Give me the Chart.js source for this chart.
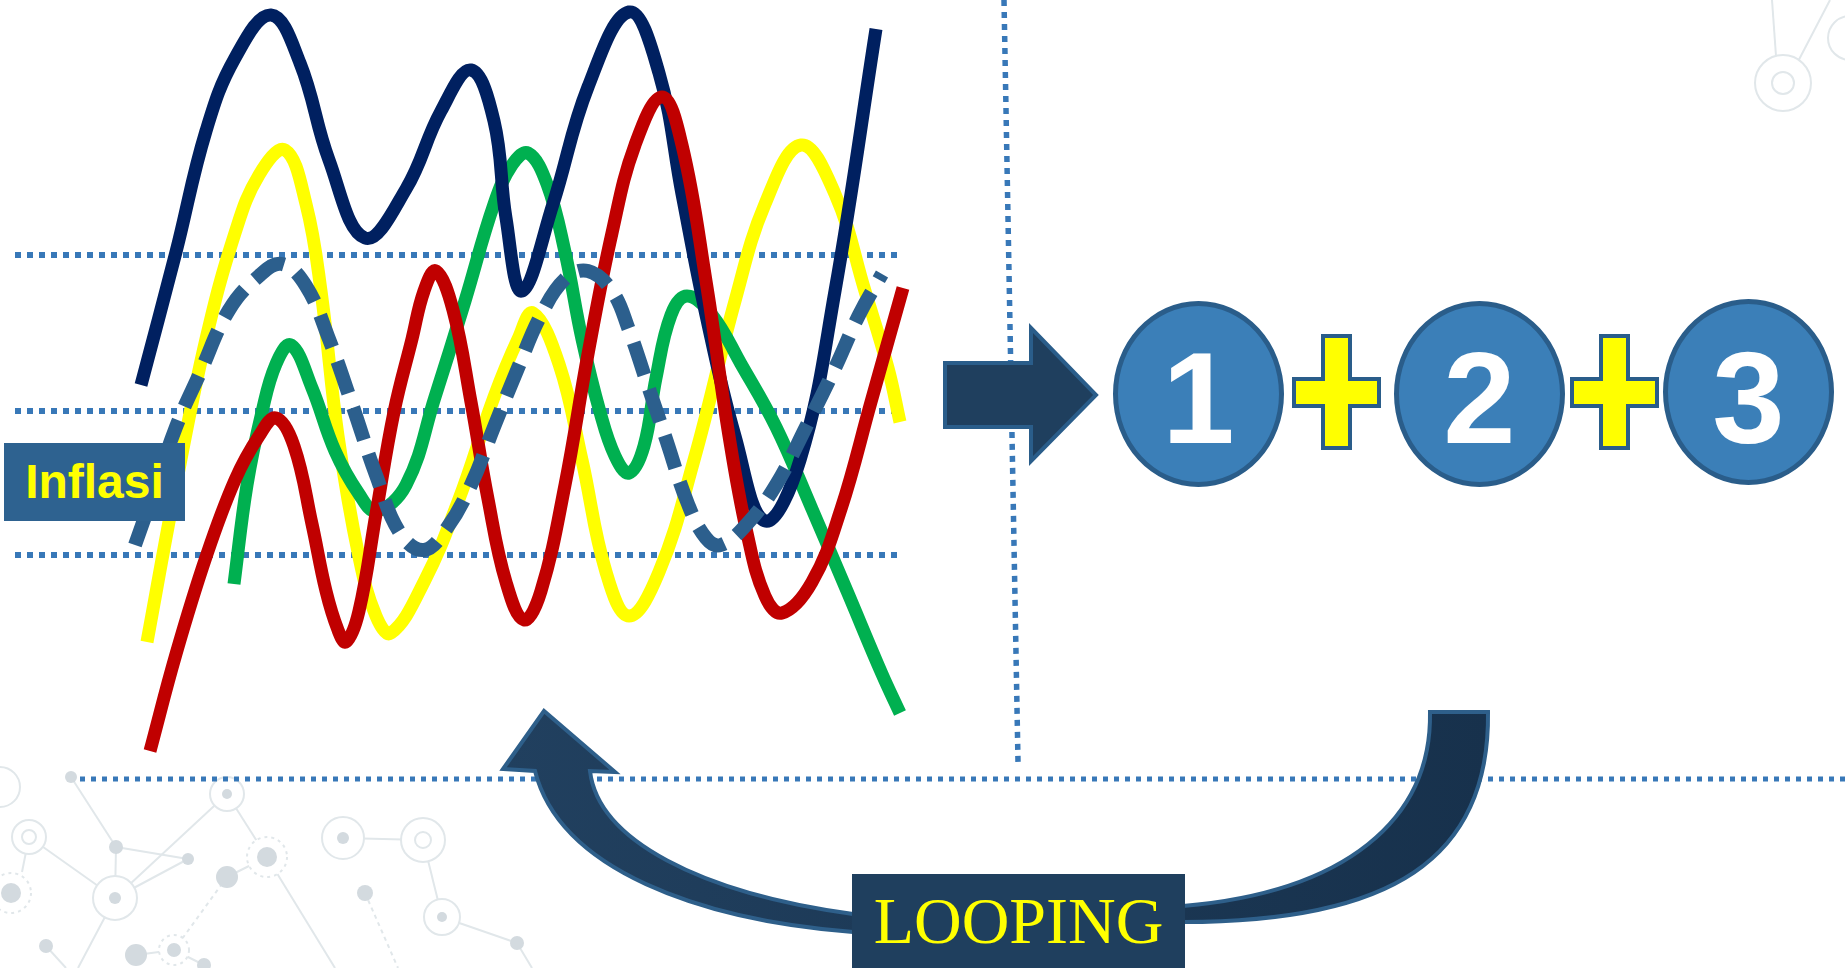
<!DOCTYPE html>
<html>
<head>
<meta charset="utf-8">
<script src="https://cdn.jsdelivr.net/npm/chart.js@4.4.0/dist/chart.umd.min.js"></script>
<style>
  html, body { margin: 0; padding: 0; background: #fff; }
  #wrap { position: relative; width: 1845px; height: 968px; overflow: hidden; }
  #grafico { position: absolute; left: 0; top: 0; }
  #inflasi {
    position: absolute; left: 4px; top: 443px; width: 181px; height: 78px;
    background: #2E6290; color: #FFFF00; text-align: center;
    font: bold 48px "Liberation Sans", Arial, sans-serif; line-height: 78px;
  }
  .cerchio {
    position: absolute; width: 171px; height: 186px; box-sizing: border-box;
    border: 5px solid #2A5D8A; border-radius: 50%; background: #3B7FB8;
  }
  .cifra {
    position: absolute; width: 171px; height: 130px; text-align: center; color: #fff;
    font: bold 130px "Liberation Sans", Arial, sans-serif; line-height: 130px;
  }
  #looping {
    position: absolute; left: 852px; top: 874px; width: 333px; height: 94px;
    background: #1F3F5E; color: #FFFF00; text-align: center;
    font: 66px "Liberation Serif", "Times New Roman", serif; line-height: 94px;
  }
</style>
</head>
<body>
<div id="wrap">
  <canvas id="grafico" width="1845" height="968"></canvas>
  <div id="inflasi">Inflasi</div>
  <div class="cerchio" style="left:1113px; top:301px;"></div>
  <div class="cerchio" style="left:1394px; top:301px;"></div>
  <div class="cerchio" style="left:1663px; top:299px;"></div>
  <div class="cifra" style="left:1113px; top:333px;">1</div>
  <div class="cifra" style="left:1394px; top:333px;">2</div>
  <div class="cifra" style="left:1663px; top:333px;">3</div>
  <div id="looping">LOOPING</div>
</div>
<script>
// Dati (x = posizione orizzontale, y = livello)
const navyX = [14.1, 17.6, 20.6, 23.5, 27.1, 30.0, 32.9, 36.5, 40.6, 44.1, 47.1, 49.4, 50.6, 52.2, 55.3, 58.8, 62.9, 65.9, 68.2, 70.6, 73.5, 76.5, 80.0, 83.5, 87.6];
const navyY = [58.3, 71.6, 83.7, 91.0, 95.3, 90.5, 80.8, 73.0, 77.9, 85.7, 89.8, 84.7, 75.0, 67.7, 76.4, 88.1, 95.6, 89.5, 77.4, 65.3, 53.2, 44.7, 50.8, 67.7, 93.9];

const gialloX = [14.7, 17.6, 20.6, 23.5, 25.9, 28.5, 30.6, 32.1, 33.8, 35.9, 37.6, 39.1, 42.4, 45.9, 49.4, 51.8, 53.3, 55.9, 58.2, 60.6, 62.9, 65.9, 69.4, 73.5, 76.5, 80.1, 83.5, 86.5, 88.8, 90.0];
const gialloY = [32.6, 48.3, 62.9, 73.5, 79.3, 81.8, 76.4, 67.7, 53.2, 41.1, 35.2, 33.5, 38.6, 46.9, 57.1, 62.9, 65.5, 60.4, 50.8, 39.6, 35.2, 39.6, 50.8, 66.7, 76.4, 82.3, 77.4, 67.7, 60.0, 54.6];

const verdeX = [23.4, 24.7, 26.2, 27.6, 29.1, 31.2, 33.5, 35.9, 37.6, 40.6, 43.5, 46.5, 49.4, 51.2, 52.8, 54.7, 56.5, 58.2, 60.0, 61.5, 62.9, 64.4, 65.6, 67.1, 68.7, 71.2, 74.1, 77.6, 81.2, 84.7, 88.2, 90.0];
const verdeY = [38.4, 48.3, 55.6, 60.4, 62.3, 58.0, 51.7, 47.4, 45.7, 48.3, 57.1, 66.7, 76.4, 80.3, 81.5, 78.4, 71.6, 62.9, 55.6, 51.2, 49.5, 52.2, 59.0, 65.3, 67.2, 65.3, 60.4, 54.1, 45.9, 37.7, 29.4, 25.5];

const rossoX = [15.0, 17.6, 20.6, 23.5, 25.9, 27.6, 29.4, 31.2, 32.6, 33.8, 34.6, 35.9, 37.6, 39.4, 41.2, 42.4, 43.6, 45.3, 47.1, 48.8, 50.6, 52.4, 54.1, 56.5, 58.8, 61.2, 63.5, 66.2, 68.2, 70.6, 72.9, 74.7, 76.5, 78.2, 81.2, 84.1, 87.1, 90.3];
const rossoY = [21.7, 31.4, 41.1, 48.8, 53.2, 55.0, 52.2, 44.4, 37.7, 33.8, 32.6, 35.7, 45.4, 55.6, 62.9, 67.7, 69.7, 65.8, 56.6, 46.9, 38.6, 34.8, 37.7, 48.3, 61.4, 73.5, 82.3, 87.1, 82.3, 68.7, 53.2, 43.5, 37.2, 35.5, 38.6, 45.9, 56.6, 68.0];

const inflasiX = [13.5, 15.3, 17.6, 20.0, 22.9, 25.9, 28.2, 30.6, 32.9, 35.3, 37.6, 40.0, 42.4, 44.7, 47.1, 49.4, 51.8, 54.1, 56.5, 58.8, 61.2, 62.9, 64.7, 66.5, 68.8, 70.6, 72.1, 74.7, 77.6, 80.6, 83.5, 85.9, 88.2];
const inflasiY = [42.3, 47.4, 54.1, 59.5, 65.8, 69.2, 70.4, 68.2, 62.9, 56.1, 49.3, 43.5, 41.8, 44.0, 48.3, 54.1, 60.0, 65.3, 68.9, 69.7, 67.7, 63.8, 58.5, 53.2, 46.4, 43.0, 42.3, 44.4, 48.3, 54.1, 60.0, 65.3, 69.4];

// Livelli delle linee punteggiate orizzontali e loro estensione
const livelli = [71.3, 55.7, 41.3];
const estensione = [1.5, 90.0];

const punti = (xs, ys) => xs.map((v, i) => ({ x: v, y: ys[i] }));

// Sfondo a rete (decorazione)
function disegnaRete(ctx) {
  ctx.save();
  ctx.lineWidth = 2;
  ctx.strokeStyle = '#E1E7EA';
  const seg = [[71,777,116,847],[116,847,115,898],[116,847,188,859],[115,898,188,859],[29,837,115,898],[29,837,22,872],
    [115,898,227,794],[227,794,267,857],[267,857,227,877],[136,955,174,950],[174,950,204,965],[46,946,66,968],
    [115,898,78,968],[267,857,335,968],[343,838,423,840],[423,840,442,917],[442,917,517,943],[517,943,532,968],
    [1772,0,1776,56],[1830,0,1792,73]];
  seg.forEach(s => { ctx.beginPath(); ctx.moveTo(s[0], s[1]); ctx.lineTo(s[2], s[3]); ctx.stroke(); });
  ctx.setLineDash([4, 4]);
  [[227,877,174,950],[365,893,398,968]].forEach(s => { ctx.beginPath(); ctx.moveTo(s[0], s[1]); ctx.lineTo(s[2], s[3]); ctx.stroke(); });
  // anelli
  ctx.setLineDash([]);
  [[29,837,17],[115,898,22],[227,794,17],[343,838,21],[423,840,22],[442,917,18],[1783,83,28],[0,787,20],[1850,38,22]].forEach(a => {
    ctx.beginPath(); ctx.arc(a[0], a[1], a[2], 0, Math.PI * 2);
    ctx.fillStyle = '#fff'; ctx.fill(); ctx.stroke();
  });
  [[29,837,7],[423,840,8],[1783,83,11]].forEach(a => { ctx.beginPath(); ctx.arc(a[0], a[1], a[2], 0, Math.PI * 2); ctx.stroke(); });
  ctx.setLineDash([3, 4]);
  [[11,893,20],[267,857,20],[174,950,15]].forEach(a => {
    ctx.beginPath(); ctx.arc(a[0], a[1], a[2], 0, Math.PI * 2);
    ctx.fillStyle = '#fff'; ctx.fill(); ctx.stroke();
  });
  // nodi pieni
  ctx.fillStyle = '#D3DADF';
  [[71,777,6],[116,847,7],[188,859,6],[115,898,6],[11,893,10],[227,794,5],[267,857,10],[227,877,11],[343,838,6],
   [365,893,8],[442,917,5],[517,943,7],[46,946,7],[136,955,11],[174,950,7],[204,965,7]].forEach(d => {
    ctx.beginPath(); ctx.arc(d[0], d[1], d[2], 0, Math.PI * 2); ctx.fill();
  });
  ctx.restore();
}

function croce(ctx, cx) {
  const a = 13.5, b = 42.5;
  ctx.beginPath();
  ctx.moveTo(cx - a, 336); ctx.lineTo(cx + a, 336); ctx.lineTo(cx + a, 379); ctx.lineTo(cx + b, 379);
  ctx.lineTo(cx + b, 406); ctx.lineTo(cx + a, 406); ctx.lineTo(cx + a, 448); ctx.lineTo(cx - a, 448);
  ctx.lineTo(cx - a, 406); ctx.lineTo(cx - b, 406); ctx.lineTo(cx - b, 379); ctx.lineTo(cx - a, 379);
  ctx.closePath();
  ctx.fillStyle = '#FFFF00'; ctx.fill();
  ctx.lineWidth = 4; ctx.strokeStyle = '#2A5D8A'; ctx.stroke();
}

const decorazioni = {
  id: 'decorazioni',
  beforeDatasetsDraw(chart) {
    const ctx = chart.ctx;
    const sx = chart.scales.x, sy = chart.scales.y;
    disegnaRete(ctx);
    ctx.save();
    ctx.strokeStyle = '#3878B8';
    ctx.lineWidth = 6;
    ctx.setLineDash([6, 6]);
    livelli.forEach(v => {
      const py = sy.getPixelForValue(v);
      ctx.beginPath();
      ctx.moveTo(sx.getPixelForValue(estensione[0]), py);
      ctx.lineTo(sx.getPixelForValue(estensione[1]), py);
      ctx.stroke();
    });
    // divisore verticale e linea in basso
    ctx.lineWidth = 5.5;
    ctx.beginPath(); ctx.moveTo(1004, 0); ctx.lineTo(1018, 762); ctx.stroke();
    ctx.lineWidth = 5;
    ctx.setLineDash([5, 6]);
    ctx.beginPath(); ctx.moveTo(80, 779); ctx.lineTo(1845, 779); ctx.stroke();
    ctx.restore();
  },
  afterDatasetsDraw(chart) {
    const ctx = chart.ctx;
    ctx.save();
    ctx.lineJoin = 'miter';
    // freccia verso destra
    ctx.beginPath();
    ctx.moveTo(945, 363); ctx.lineTo(1031, 363); ctx.lineTo(1031, 328); ctx.lineTo(1096, 395);
    ctx.lineTo(1031, 461); ctx.lineTo(1031, 427); ctx.lineTo(945, 427); ctx.closePath();
    ctx.fillStyle = '#1F3F5E'; ctx.fill();
    ctx.lineWidth = 4; ctx.strokeStyle = '#2A5D8A'; ctx.stroke();
    // freccia curva (looping)
    const g = ctx.createLinearGradient(500, 0, 1490, 0);
    g.addColorStop(0, '#21405F'); g.addColorStop(1, '#17314C');
    ctx.beginPath();
    ctx.moveTo(1488, 712);
    ctx.bezierCurveTo(1490, 860, 1390, 922, 1183, 922);
    ctx.lineTo(853, 932);
    ctx.bezierCurveTo(700, 920, 560, 870, 535, 771);
    ctx.lineTo(503, 769); ctx.lineTo(544, 711); ctx.lineTo(615, 772); ctx.lineTo(590, 771);
    ctx.bezierCurveTo(598, 840, 700, 893, 853, 914);
    ctx.lineTo(1183, 906);
    ctx.bezierCurveTo(1345, 892, 1432, 820, 1430, 712);
    ctx.closePath();
    ctx.fillStyle = g; ctx.fill();
    ctx.lineWidth = 4; ctx.strokeStyle = '#2E5F8A'; ctx.stroke();
    croce(ctx, 1336.5);
    croce(ctx, 1614.5);
    ctx.restore();
  }
};

const serie = (dati, colore, extra) => Object.assign({
  data: dati,
  borderColor: colore,
  borderWidth: 13,
  borderCapStyle: 'butt',
  borderJoinStyle: 'round',
  tension: 0.4,
  pointRadius: 0,
  fill: false
}, extra || {});

document.addEventListener('DOMContentLoaded', () => {
  const ctx = document.getElementById('grafico').getContext('2d');
  new Chart(ctx, {
    type: 'line',
    data: {
      datasets: [
        serie(punti(inflasiX, inflasiY), '#2C5F8D', { borderWidth: 14, borderDash: [34, 15], label: 'Inflasi' }),
        serie(punti(rossoX, rossoY), '#C00000'),
        serie(punti(navyX, navyY), '#002060'),
        serie(punti(verdeX, verdeY), '#00B050'),
        serie(punti(gialloX, gialloY), '#FFFF00')
      ]
    },
    options: {
      responsive: false,
      animation: false,
      layout: { padding: 0 },
      scales: {
        x: { type: 'linear', display: false, min: 0, max: 184.5 },
        y: { type: 'linear', display: false, min: 0, max: 96.8 }
      },
      plugins: { legend: { display: false }, tooltip: { enabled: false } }
    },
    plugins: [decorazioni]
  });
});
</script>
</body>
</html>
